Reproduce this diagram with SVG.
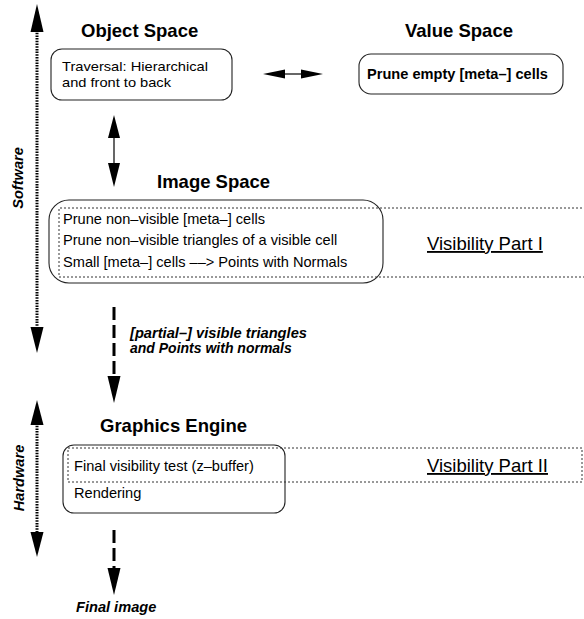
<svg xmlns="http://www.w3.org/2000/svg" width="584" height="619" viewBox="0 0 584 619">
<style>
text{font-family:"Liberation Sans",Arial,sans-serif;fill:#000}
.title{font-size:18.5px;font-weight:bold}
.body{font-size:14.6px}
.tight{font-size:13.5px}
.bold{font-size:14.6px;font-weight:bold}
.bi{font-size:14.6px;font-weight:bold;font-style:italic}
.bit{font-size:14px;font-weight:bold;font-style:italic}
.vis{font-size:18.5px;text-decoration:underline}
.box{fill:none;stroke:#222;stroke-width:1.1}
.dot{fill:none;stroke:#333;stroke-width:1;stroke-dasharray:2 2}
.head{fill:#000;stroke:none}
.thin{stroke:#000;stroke-width:1.2;fill:none}
.dash{stroke:#000;stroke-width:3;stroke-dasharray:13 5;fill:none}
.dotv{stroke:#000;stroke-width:3;stroke-dasharray:1.5 1.2;fill:none}
</style>
<rect width="584" height="619" fill="#fff"/>

<g id="connectors">
  <!-- Software range arrow -->
  <line class="dotv" x1="37" y1="30" x2="37" y2="328"/>
  <polygon class="head" points="37,4 30.5,32 43.5,32"/>
  <polygon class="head" points="37,353 30.5,327 43.5,327"/>
  <!-- Hardware range arrow -->
  <line class="dotv" x1="37" y1="423" x2="37" y2="533"/>
  <polygon class="head" points="37,400 30.5,425 43.5,425"/>
  <polygon class="head" points="37,557 30.5,532 43.5,532"/>
  <!-- Object <-> Value -->
  <line class="thin" x1="280" y1="74" x2="306" y2="74"/>
  <polygon class="head" points="263,74 285,69.5 285,78.5"/>
  <polygon class="head" points="323,74 301,69.5 301,78.5"/>
  <!-- Object <-> Image -->
  <line class="thin" x1="114" y1="132" x2="114" y2="168"/>
  <polygon class="head" points="114,115 108,138 120,138"/>
  <polygon class="head" points="114,187 108,163 120,163"/>
  <!-- Image -> Graphics (dashed) -->
  <line class="dash" x1="114" y1="307" x2="114" y2="377"/>
  <polygon class="head" points="114,403 107.5,376 120.5,376"/>
  <!-- Graphics -> Final image (dashed) -->
  <line class="dash" x1="114" y1="530" x2="114" y2="570"/>
  <polygon class="head" points="114,595 107.5,568 120.5,568"/>
</g>

<g id="label-software">
  <text class="bi" transform="translate(23,178) rotate(-90)" text-anchor="middle">Software</text>
</g>
<g id="label-hardware">
  <text class="bi" transform="translate(24,478) rotate(-90)" text-anchor="middle">Hardware</text>
</g>

<g id="object-space">
  <text class="title" x="81" y="37">Object Space</text>
  <rect class="box" x="51" y="49" width="181" height="51" rx="11"/>
  <text class="tight" x="62" y="71" textLength="146" lengthAdjust="spacingAndGlyphs">Traversal: Hierarchical</text>
  <text class="tight" x="62" y="87" textLength="109" lengthAdjust="spacingAndGlyphs">and front to back</text>
</g>

<g id="value-space">
  <text class="title" x="405" y="37">Value Space</text>
  <rect class="box" x="359" y="54" width="204" height="40" rx="12"/>
  <text class="bold" x="367" y="79">Prune empty [meta–] cells</text>
</g>

<g id="image-space">
  <text class="title" x="157" y="188">Image Space</text>
  <rect class="box" x="49" y="200" width="334" height="83" rx="20"/>
  <path class="dot" d="M590,208 H59 V277 H590"/>
  <text class="body" x="63" y="224">Prune non–visible [meta–] cells</text>
  <text class="body" x="63" y="245">Prune non–visible triangles of a visible cell</text>
  <text class="body" x="63" y="267">Small [meta–] cells ––&gt; Points with Normals</text>
  <text class="vis" x="427" y="250">Visibility Part I</text>
</g>

<g id="transfer-label">
  <text class="bit" x="130" y="338" textLength="177" lengthAdjust="spacingAndGlyphs">[partial–] visible triangles</text>
  <text class="bit" x="130" y="353">and Points with normals</text>
</g>

<g id="graphics-engine">
  <text class="title" x="100" y="432">Graphics Engine</text>
  <rect class="box" x="63" y="445" width="222" height="68" rx="11"/>
  <rect class="dot" x="68" y="448" width="514" height="34"/>
  <text class="body" x="74" y="471">Final visibility test (z–buffer)</text>
  <text class="body" x="74" y="498">Rendering</text>
  <text class="vis" x="427" y="472">Visibility Part II</text>
</g>

<g id="final-image">
  <text class="bi" x="76" y="612">Final image</text>
</g>
</svg>
